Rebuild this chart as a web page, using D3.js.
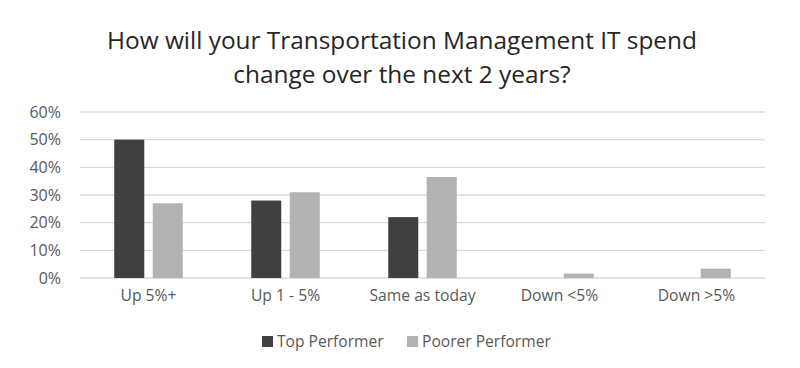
<!DOCTYPE html>
<html><head><meta charset="utf-8">
<script src="https://cdn.jsdelivr.net/npm/d3@7"></script>
<style>body{margin:0;background:#fff}text{font-family:"Open Sans",sans-serif}</style>
</head><body>
<svg id="c" width="800" height="368"></svg>
<script>
const categories = ["Up 5%+", "Up 1 - 5%", "Same as today", "Down <5%", "Down >5%"];
const seriesNames = ["Top Performer", "Poorer Performer"];
const topPerformer = [50, 28, 22, 0, 0];
const poorerPerformer = [27, 31, 36.5, 1.6, 3.4];
const yTicks = [0, 10, 20, 30, 40, 50, 60];
const colors = ["#404040", "#b2b2b2"];

const svg = d3.select("#c");
const m = {l: 80, r: 35, t: 112, b: 90};
const W = 800, H = 368;
const x = d3.scaleBand().domain(categories).range([m.l, W - m.r]);
const bw = x.bandwidth();
const x1 = d3.scaleBand().domain(seriesNames).range([bw / 2 - 34.25, bw / 2 + 34.25]).paddingInner(0.22).paddingOuter(0);
const y = d3.scaleLinear().domain([0, 60]).range([H - m.b, m.t]);

svg.append("g").selectAll("line").data(yTicks).join("line")
  .attr("x1", m.l).attr("x2", W - m.r)
  .attr("y1", d => y(d)).attr("y2", d => y(d))
  .attr("stroke", "#d9d9d9").attr("stroke-width", 1.3);

const yAxis = svg.append("g").attr("transform", `translate(${m.l - 16},0)`)
  .call(d3.axisLeft(y).tickValues(yTicks).tickFormat(d => d + "%").tickSize(0));
yAxis.select(".domain").remove();
yAxis.selectAll("text").attr("font-size", 16).attr("fill", "#595959").attr("font-family", "Open Sans");

const xAxis = svg.append("g").attr("transform", `translate(0,${y(0)})`)
  .call(d3.axisBottom(x).tickSize(0).tickPadding(12));
xAxis.select(".domain").remove();
xAxis.selectAll("text").attr("font-size", 15.7).attr("fill", "#595959").attr("font-family", "Open Sans");

const seriesData = [topPerformer, poorerPerformer];
seriesNames.forEach((s, si) => {
  svg.append("g").selectAll("rect").data(categories).join("rect")
    .attr("x", c => x(c) + x1(s))
    .attr("width", x1.bandwidth())
    .attr("y", (c, i) => y(seriesData[si][i]))
    .attr("height", (c, i) => y(0) - y(seriesData[si][i]))
    .attr("fill", colors[si]);
});

const title = svg.append("text").attr("text-anchor", "middle").attr("font-size", 24.4).attr("fill", "#262626");
title.append("tspan").attr("x", 402).attr("y", 49).text("How will your Transportation Management IT spend");
title.append("tspan").attr("x", 402).attr("y", 83).text("change over the next 2 years?");

const legendX = [262, 407];
const lg = svg.append("g");
seriesNames.forEach((s, i) => {
  lg.append("rect").attr("x", legendX[i]).attr("y", 336).attr("width", 11).attr("height", 11).attr("fill", colors[i]);
  lg.append("text").attr("x", legendX[i] + 15).attr("y", 347).attr("font-size", 15.6).attr("fill", "#595959").text(s);
});
</script>
</body></html>
